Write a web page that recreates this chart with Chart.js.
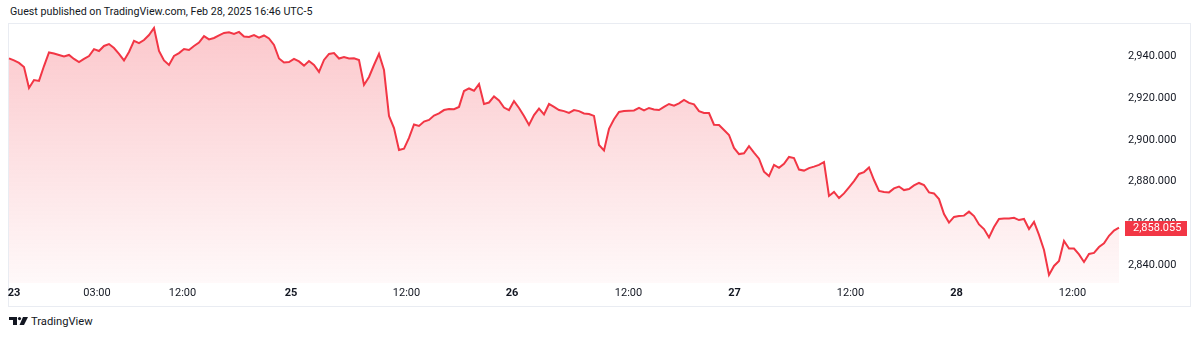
<!DOCTYPE html>
<html>
<head>
<meta charset="utf-8">
<script src="https://cdn.jsdelivr.net/npm/chart.js@4.4.1/dist/chart.umd.min.js"></script>
<style>
  html, body { margin: 0; padding: 0; background: #ffffff; width: 1200px; height: 337px; overflow: hidden; }
  #header { position: absolute; left: 10px; top: 5px; font-family: Roboto, "Noto Sans", sans-serif; font-size: 10.7px; color: #131722; white-space: nowrap; }
  #frame { position: absolute; left: 8px; top: 23px; width: 1181px; height: 282px; border: 1px solid #e9ecf2; box-sizing: content-box; }
  #wrap { position: absolute; left: 8px; top: 23px; width: 1182px; height: 283px; }
  #logo { position: absolute; left: 9px; top: 314px; height: 14px; display: flex; align-items: center; font-family: Roboto, "Noto Sans", sans-serif; font-size: 11.2px; color: #131722; }
  #logo svg { margin-right: 3px; }
</style>
</head>
<body>
<div id="header">Guest published on TradingView.com, Feb 28, 2025 16:46 UTC-5</div>
<div id="frame"></div>
<div id="wrap"><canvas id="c" width="1182" height="283"></canvas></div>
<div id="logo">
  <svg width="19" height="8" viewBox="0 0 19 8"><path d="M0 0H8V8H4V3H0Z" fill="#131722"/><circle cx="10.5" cy="1.6" r="1.6" fill="#131722"/><path d="M14 0H19L15 8H10.5Z" fill="#131722"/></svg>
  <span>TradingView</span>
</div>
<script>
// ---- data (equally spaced bars) ----
const priceValues = [
  2938.9, 2937.9, 2936.7, 2934.7, 2924.7, 2928.5, 2928.1, 2935.2, 2941.7, 2941.2,
  2940.5, 2939.8, 2940.5, 2938.6, 2937.1, 2938.6, 2940.0, 2943.3, 2942.4, 2944.8,
  2945.7, 2943.8, 2941.0, 2937.9, 2941.9, 2947.2, 2946.1, 2947.6, 2950.0, 2953.4,
  2942.4, 2937.9, 2935.7, 2940.0, 2941.4, 2943.3, 2942.9, 2944.8, 2946.4, 2949.5,
  2947.9, 2948.6, 2949.8, 2951.0, 2951.3, 2950.5, 2951.5, 2949.3, 2949.1, 2950.0,
  2948.8, 2949.8, 2948.4, 2945.3, 2938.8, 2936.9, 2937.1, 2938.6, 2937.4, 2935.4,
  2937.6, 2935.7, 2932.4, 2938.1, 2941.0, 2941.4, 2938.8, 2939.5, 2938.8, 2938.9,
  2938.1, 2926.2, 2930.0, 2935.7, 2941.0, 2933.3, 2911.4, 2905.6, 2895.1, 2895.8,
  2900.9, 2907.3, 2906.6, 2908.7, 2909.5, 2911.6, 2912.6, 2914.2, 2914.7, 2914.6,
  2915.7, 2923.3, 2924.5, 2923.4, 2926.6, 2917.1, 2917.8, 2920.7, 2918.8, 2915.4,
  2914.2, 2918.5, 2915.2, 2911.4, 2907.1, 2911.8, 2914.9, 2912.1, 2917.1, 2915.7,
  2914.2, 2913.7, 2912.8, 2914.2, 2913.7, 2912.6, 2912.3, 2911.4, 2897.5, 2894.9,
  2905.2, 2909.8, 2913.3, 2913.7, 2913.9, 2914.0, 2915.2, 2914.0, 2915.2, 2914.5,
  2914.2, 2915.7, 2917.1, 2916.3, 2917.4, 2919.0, 2917.6, 2916.9, 2913.7, 2912.8,
  2912.8, 2907.2, 2907.1, 2904.7, 2902.3, 2896.1, 2893.2, 2893.6, 2897.0, 2893.9,
  2891.0, 2884.8, 2882.7, 2888.0, 2886.6, 2888.5, 2891.8, 2891.3, 2885.8, 2885.3,
  2886.5, 2887.2, 2888.0, 2889.4, 2873.2, 2875.1, 2872.2, 2874.4, 2877.3, 2880.3,
  2883.7, 2884.6, 2886.8, 2880.8, 2875.6, 2875.1, 2874.9, 2876.8, 2877.7, 2876.0,
  2876.5, 2878.2, 2879.4, 2878.4, 2874.9, 2874.4, 2871.7, 2864.6, 2860.5, 2863.2,
  2863.6, 2863.8, 2865.7, 2863.6, 2859.6, 2857.4, 2853.4, 2858.4, 2862.2, 2862.4,
  2862.4, 2862.8, 2861.7, 2862.2, 2857.4, 2860.8, 2854.6, 2847.4, 2835.5, 2839.8,
  2842.2, 2851.7, 2848.1, 2848.1, 2845.3, 2841.7, 2845.5, 2846.0, 2848.8, 2850.6,
  2854.2, 2856.7, 2858.055
];
// time-axis labels and the bar index each one sits on
const xTickLabels = ["23", "03:00", "12:00", "25", "12:00", "26", "12:00", "27", "12:00", "28", "12:00"];
const xTickIndex  = [1.0, 17.6, 34.7, 56.4, 79.5, 100.6, 123.9, 145.1, 168.3, 189.5, 212.7];
// price-axis ticks
const yTicks = [2840, 2860, 2880, 2900, 2920, 2940];

const RED = '#F23645';
const TEXT = '#131722';
const FONT = 'Roboto, "Noto Sans", sans-serif';
const fmt = (v) => v.toLocaleString('en-US', { minimumFractionDigits: 3, maximumFractionDigits: 3 });
const points = priceValues.map((v, i) => ({ x: i, y: v }));

const lastPricePlugin = {
  id: 'lastPrice',
  afterDraw(chart) {
    const ys = chart.scales.y;
    const last = priceValues[priceValues.length - 1];
    const py = Math.round(ys.getPixelForValue(last));
    const ctx = chart.ctx;
    ctx.save();
    ctx.fillStyle = RED;
    ctx.fillRect(ys.left + 5, py - 7, ys.right - 3 - (ys.left + 5), 15);
    ctx.fillStyle = '#ffffff';
    ctx.font = '11px ' + FONT;
    ctx.textBaseline = 'middle';
    ctx.textAlign = 'left';
    ctx.fillText(fmt(last), ys.left + 13, py + 0.5);
    ctx.restore();
  }
};

new Chart(document.getElementById('c'), {
  type: 'line',
  data: { datasets: [{
      data: points, borderColor: RED, borderWidth: 2, pointRadius: 0, tension: 0, fill: 'start',
      backgroundColor: (ctx) => {
        const ca = ctx.chart.chartArea;
        if (!ca) return 'rgba(242,54,69,0.2)';
        const g = ctx.chart.ctx.createLinearGradient(0, ca.top, 0, ca.bottom);
        g.addColorStop(0, 'rgba(242,54,69,0.28)');
        g.addColorStop(1, 'rgba(242,54,69,0.03)');
        return g;
      }
  }] },
  options: {
    responsive: false, animation: false, events: [], layout: { padding: 0 },
    plugins: { legend: { display: false }, tooltip: { enabled: false } },
    scales: {
      x: {
        type: 'linear', min: -0.2, max: priceValues.length - 0.8,
        grid: { display: false, drawTicks: false }, border: { display: false },
        afterBuildTicks: (s) => { s.ticks = xTickIndex.map(v => ({ value: v })); },
        afterFit: (s) => { s.height = 23; s.paddingLeft = 0; s.paddingRight = 0; },
        ticks: {
          autoSkip: false, maxRotation: 0, padding: 4, color: TEXT,
          font: (c) => { const lab = xTickLabels[c.index] || ''; return { family: FONT, size: 11, weight: lab.includes(':') ? 'normal' : 'bold' }; },
          callback: (v, i) => xTickLabels[i]
        }
      },
      y: {
        position: 'right', min: 2831.65, max: 2955.75,
        grid: { display: false, drawTicks: false }, border: { display: false },
        afterBuildTicks: (s) => { s.ticks = yTicks.map(v => ({ value: v })); },
        afterFit: (s) => { s.width = 70; s.paddingTop = 0; s.paddingBottom = 0; },
        ticks: { padding: 8, color: TEXT, font: { family: FONT, size: 11 }, callback: (v) => fmt(v) }
      }
    }
  },
  plugins: [lastPricePlugin]
});
</script>
</body>
</html>
